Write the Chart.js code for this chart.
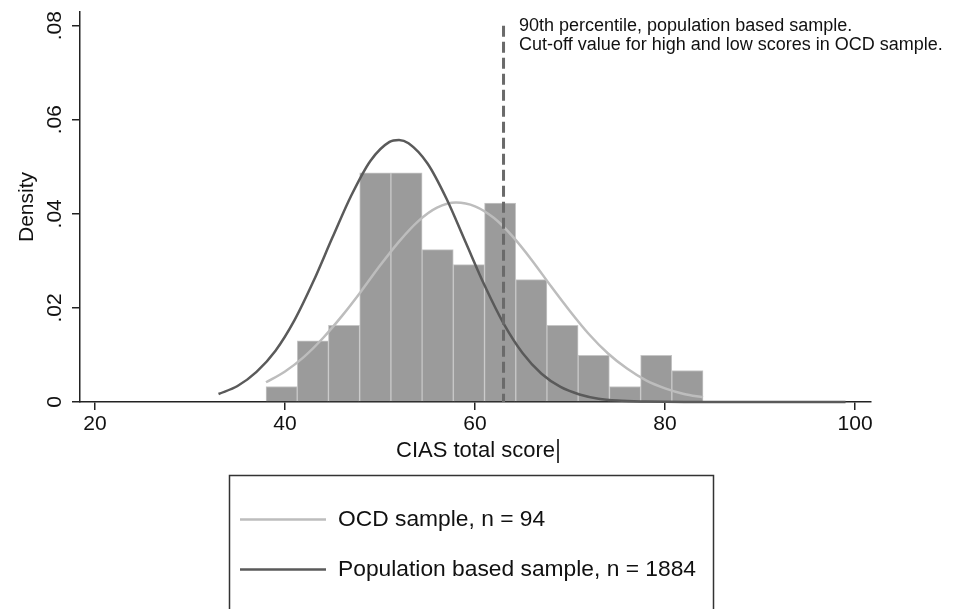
<!DOCTYPE html>
<html>
<head>
<meta charset="utf-8">
<script src="https://cdn.jsdelivr.net/npm/chart.js@4.4.1/dist/chart.umd.min.js"></script>
<style>
  html, body { margin: 0; padding: 0; background: #fff; }
  canvas { display: block; }
</style>
</head>
<body>
<canvas id="chart" width="954" height="609"></canvas>
<script>
// Histogram of the OCD sample: bin centres and density
const binCenters = [39.64, 42.93, 46.21, 49.50, 52.79, 56.07, 59.36, 62.64, 65.93, 69.21, 72.50, 75.79, 79.07, 82.36];
const binDensity = [0.0033, 0.0130, 0.0163, 0.0487, 0.0487, 0.0324, 0.0292, 0.0423, 0.0260, 0.0163, 0.0099, 0.0033, 0.0099, 0.0067];

// Normal curve, OCD sample (light)
const ocdX = [38, 40, 42, 44, 46, 48, 50, 52, 54, 56, 58, 60, 62, 64, 66, 68, 70, 72, 74, 76, 78, 80, 82, 84];
const ocdY = [0.0042, 0.0065, 0.0096, 0.0136, 0.0183, 0.0235, 0.0290, 0.0341, 0.0384, 0.0413, 0.0424, 0.0416, 0.0391, 0.0351, 0.0301, 0.0246, 0.0193, 0.0144, 0.0103, 0.0071, 0.0046, 0.0029, 0.0017, 0.0010];

// Normal curve, population based sample (dark)
const popX = [33, 35, 37, 39, 41, 43, 45, 47, 49, 51, 52, 53, 55, 57, 59, 61, 63, 65, 67, 69, 71, 73, 75, 78, 82, 86, 90, 95, 99];
const popY = [0.0017, 0.0034, 0.0064, 0.0109, 0.0174, 0.0257, 0.0350, 0.0440, 0.0513, 0.0553, 0.0557, 0.0550, 0.0507, 0.0432, 0.0340, 0.0248, 0.0167, 0.0104, 0.0060, 0.0032, 0.0016, 0.0007, 0.0003, 0.0001, 0, 0, 0, 0, 0];

// 90th percentile cut-off line
const cutoffX = 63;
const cutoffTop = 0.08;

const xTicks = [20, 40, 60, 80, 100];
const yTicks = [0, 0.02, 0.04, 0.06, 0.08];
const yTickLabels = ['0', '.02', '.04', '.06', '.08'];
const seriesLabels = ['OCD sample, n = 94', 'Population based sample, n = 1884'];
const noteLines = ['90th percentile, population based sample.', 'Cut-off value for high and low scores in OCD sample.'];

const FONT = '"Liberation Sans", Arial, Helvetica, sans-serif';

// Text note, cursor mark and boxed legend
const extrasPlugin = {
    id: 'extras',
    afterDraw(chart) {
        const ctx = chart.ctx;
        ctx.save();

        // note next to the cut-off line
        ctx.fillStyle = '#111';
        ctx.font = '18px ' + FONT;
        ctx.textAlign = 'left';
        ctx.textBaseline = 'alphabetic';
        ctx.fillText(noteLines[0], 519, 31);
        ctx.fillText(noteLines[1], 519, 50);

        // stray text cursor after the axis title
        ctx.strokeStyle = '#000';
        ctx.lineWidth = 1.5;
        ctx.beginPath();
        ctx.moveTo(558, 439);
        ctx.lineTo(558, 463);
        ctx.stroke();

        // legend box
        ctx.strokeStyle = '#333';
        ctx.lineWidth = 1.5;
        ctx.strokeRect(229.5, 475.5, 484, 160);

        const items = [chart.data.datasets[1], chart.data.datasets[2]];
        const rowsY = [519.5, 569.5];
        ctx.font = '22.8px ' + FONT;
        ctx.textBaseline = 'middle';
        items.forEach((ds, i) => {
            ctx.strokeStyle = ds.borderColor;
            ctx.lineWidth = ds.borderWidth;
            ctx.beginPath();
            ctx.moveTo(240, rowsY[i]);
            ctx.lineTo(326, rowsY[i]);
            ctx.stroke();
            ctx.fillStyle = '#111';
            ctx.fillText(ds.label, 338, rowsY[i]);
        });
        ctx.restore();
    }
};

const ctx = document.getElementById('chart').getContext('2d');
new Chart(ctx, {
    type: 'bar',
    data: {
        datasets: [
            {
                type: 'line',
                label: 'cutoff',
                data: [{ x: cutoffX, y: cutoffTop }, { x: cutoffX, y: 0 }],
                borderColor: '#6a6a6a',
                borderWidth: 3,
                borderDash: [11, 5],
                pointRadius: 0,
                order: 0
            },
            {
                type: 'line',
                label: seriesLabels[0],
                data: ocdX.map((x, i) => ({ x: x, y: ocdY[i] })),
                borderColor: '#bdbdbd',
                borderWidth: 2.5,
                pointRadius: 0,
                tension: 0.4,
                cubicInterpolationMode: 'monotone',
                clip: false,
                order: 2
            },
            {
                type: 'line',
                label: seriesLabels[1],
                data: popX.map((x, i) => ({ x: x, y: popY[i] })),
                borderColor: '#5a5a5a',
                borderWidth: 2.5,
                pointRadius: 0,
                tension: 0.4,
                cubicInterpolationMode: 'monotone',
                clip: false,
                order: 1
            },
            {
                type: 'bar',
                label: 'histogram',
                data: binCenters.map((x, i) => ({ x: x, y: binDensity[i] })),
                backgroundColor: '#9b9b9b',
                borderColor: '#c6c6c6',
                borderWidth: 1,
                barPercentage: 1,
                categoryPercentage: 1,
                grouped: false,
                order: 3
            }
        ]
    },
    options: {
        responsive: false,
        animation: false,
        devicePixelRatio: 1,
        layout: {
            padding: { left: 0, top: 12, right: 83, bottom: 127 }
        },
        plugins: {
            legend: { display: false },
            tooltip: { enabled: false }
        },
        scales: {
            x: {
                type: 'linear',
                min: 18.42,
                max: 101.68,
                offset: false,
                afterBuildTicks: (scale) => { scale.ticks = xTicks.map(v => ({ value: v })); },
                afterFit: (scale) => { scale.height = 80; },
                border: { display: true, color: '#222', width: 1.5 },
                grid: { display: true, offset: false, drawOnChartArea: false, drawTicks: true, tickLength: 8, color: '#222', lineWidth: 1.5 },
                ticks: {
                    color: '#111',
                    font: { family: FONT, size: 21 },
                    padding: 2,
                    maxRotation: 0,
                    autoSkip: false
                },
                title: {
                    display: true,
                    text: 'CIAS total score',
                    color: '#111',
                    font: { family: FONT, size: 22 },
                    padding: { top: 0, bottom: 18 }
                }
            },
            y: {
                type: 'linear',
                min: 0,
                max: 0.0829,
                afterBuildTicks: (scale) => { scale.ticks = yTicks.map(v => ({ value: v })); },
                afterFit: (scale) => {
                    scale.width = 80;
                    scale.paddingTop = 0;
                    scale.paddingBottom = 0;
                },
                border: { display: true, color: '#222', width: 1.5 },
                grid: { display: true, drawOnChartArea: false, drawTicks: true, tickLength: 8, color: '#222', lineWidth: 1.5 },
                ticks: {
                    color: '#111',
                    font: { family: FONT, size: 21 },
                    minRotation: 90,
                    maxRotation: 90,
                    crossAlign: 'center',
                    padding: 2,
                    autoSkip: false,
                    callback: (value) => yTickLabels[yTicks.indexOf(value)]
                },
                title: {
                    display: true,
                    text: 'Density',
                    color: '#111',
                    font: { family: FONT, size: 21 },
                    padding: { top: 15, bottom: 0 }
                }
            }
        }
    },
    plugins: [extrasPlugin]
});
</script>
</body>
</html>
